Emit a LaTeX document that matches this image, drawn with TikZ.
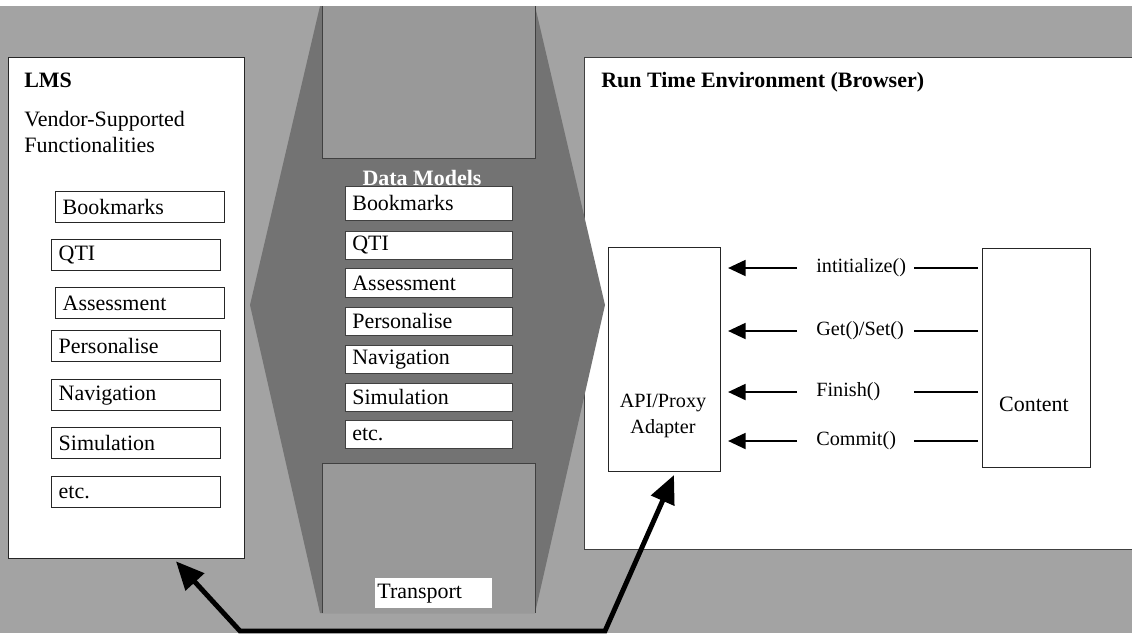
\documentclass[tikz,border=0pt]{standalone}
\usepackage{fontspec}
\setmainfont{Liberation Serif}
\usepackage{tikz}
\usetikzlibrary{arrows.meta}
\definecolor{bggray}{gray}{0.64}
\definecolor{hexgray}{gray}{0.45}
\definecolor{slotgray}{gray}{0.6}
\definecolor{edgegray}{gray}{0.25}

\begin{document}
\begin{tikzpicture}[x=0.02cm, y=-0.02cm,
    txt/.style={font=\fontsize{12.5}{14.5}\selectfont},
    funcbox/.style={txt, draw=black!85, line width=0.8pt, fill=white, anchor=north west,
      minimum width=3.38cm, minimum height=0.62cm, text width=3.1cm, inner xsep=0.14cm,
      inner ysep=0pt, align=left},
    modelbox/.style={txt, draw=edgegray, line width=0.4pt, fill=white, anchor=north west,
      minimum width=3.34cm, text width=3.06cm, inner xsep=0.14cm, inner ysep=0pt, align=left},
    callname/.style={anchor=west, text width=1.88cm, inner xsep=0.06cm, inner ysep=1pt,
      align=left, font=\fontsize{11.5}{13}\selectfont},
    callarrow/.style={-{Triangle[length=10pt,width=9pt]}, line width=1.4pt,
      shorten <=0.32cm, shorten >=0.14cm},
    callline/.style={line width=1.1pt, shorten <=0.08cm},
    transarrow/.style={{Triangle[length=16pt,width=14pt]}-{Triangle[length=16pt,width=14pt]},
      line width=2.8pt}]
    \useasboundingbox (0,0) rectangle (1132,633);

    %% Background
    \fill[white] (0,0) rectangle (1132,6);
    \fill[bggray] (0,6) rectangle (1132,633);

    %% Run time environment
    \node[draw=edgegray, fill=white, anchor=north west, minimum width=10.96cm,
      minimum height=9.84cm, inner sep=0pt] (rte) at (584,57) {};
    \node[font=\fontsize{12.5}{14.5}\selectfont\bfseries, anchor=base west, inner sep=0pt]
      (rtetitle) at (601,87) {Run Time Environment (Browser)};

    %% Data model channel
    \fill[hexgray] (320,6) -- (535,6) -- (605,305) -- (535,613) -- (320,613) -- (250,305) -- cycle;
    \fill[slotgray] (322,6) rectangle (535,158);
    \draw[edgegray, line width=0.4pt] (322,6) -- (322,158) -- (535,158) -- (535,6);
    \fill[slotgray] (322,463) rectangle (535,613);
    \draw[edgegray, line width=0.4pt] (322,613) -- (322,463) -- (535,463) -- (535,613);

    %% LMS
    \node[draw=black!85, line width=0.8pt, fill=white, anchor=north west, minimum width=4.72cm,
      minimum height=10.02cm, inner sep=0pt] (lms) at (8,57) {};
    \node[font=\fontsize{12.5}{14.5}\selectfont\bfseries, anchor=base west, inner sep=0pt]
      (lmstitle) at (24,87) {LMS};
    \node[txt, anchor=north west, inner sep=0pt, align=left] (vendor) at (24,111)
      {Vendor-Supported\\Functionalities};
    \foreach \name/\x/\y [count=\i] in {Bookmarks/55/191, QTI/51/239, Assessment/55/287,
        Personalise/51/330, Navigation/51/379, Simulation/51/427, etc./51/476}
      \node[funcbox] (func\i) at (\x,\y) {\name};

    %% Data models
    \node[font=\fontsize{12.5}{14.5}\selectfont\bfseries, text=white, anchor=base, inner sep=0pt]
      (dmtitle) at (422,185) {Data Models};
    \foreach \name/\y/\h [count=\i] in {Bookmarks/186/34, QTI/231/28, Assessment/268/29,
        Personalise/307/28, Navigation/345/28, Simulation/383/28, etc./420/28}
      \node[modelbox, minimum height=\h*0.02cm] (model\i) at (345,\y) {\name};

    %% Transport
    \node[txt, fill=white, anchor=north west, minimum height=0.6cm, text width=2.26cm,
      inner xsep=0.04cm, inner ysep=0pt, align=left] (transport) at (375,578) {Transport};

    %% API adapter and content
    \node[draw=black!85, line width=0.6pt, fill=white, anchor=north west, minimum width=2.24cm,
      minimum height=4.48cm, inner sep=0pt] (api) at (608,247) {};
    \node[font=\fontsize{11.5}{14.7}\selectfont, align=center] (apitext) at (663,416)
      {API/Proxy\\Adapter};
    \node[draw=black!85, line width=0.6pt, fill=white, anchor=north west, minimum width=2.16cm,
      minimum height=4.38cm, inner sep=0pt] (content) at (982,248) {};
    \node[txt] (contenttext) at (1034,404) {Content};

    %% API calls
    \foreach \call/\y [count=\i] in {intitialize()/268, {Get()/Set()}/331, Finish()/392,
        Commit()/441} {
      \node[callname] (call\i) at (813,\y) {\call};
      \draw[callarrow] (call\i.west) -- (api.east |- call\i.west);
      \draw[callline] (content.west |- call\i.east) -- (call\i.east);
    }

    %% Transport arrows
    \coordinate (footl) at (240,631);
    \coordinate (footr) at (605,631);
    \draw[transarrow] ([xshift=3.36cm, yshift=-0.04cm]lms.south west) -- (footl) -- (footr)
      -- ([xshift=1.32cm, yshift=-0.06cm]api.south west);
\end{tikzpicture}
\end{document}
